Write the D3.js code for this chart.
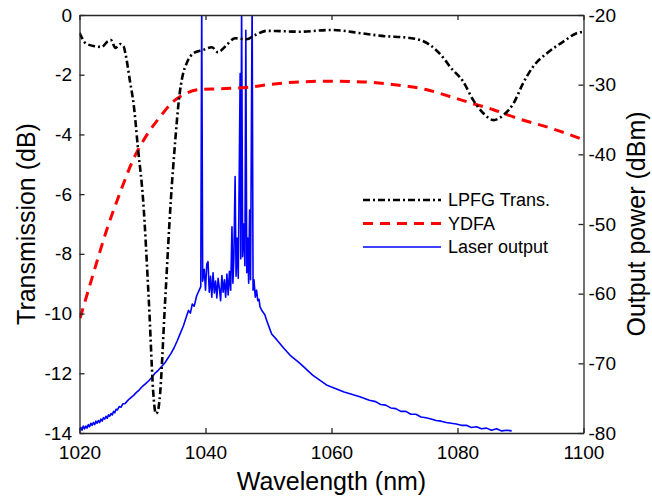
<!DOCTYPE html>
<html>
<head>
<meta charset="utf-8">
<script src="https://cdn.jsdelivr.net/npm/d3@7"></script>
<style>
  body { margin: 0; background: #fff; }
  text { font-family: "Liberation Sans", Arial, sans-serif; fill: #000; }
</style>
</head>
<body>
<div id="chart"></div>
<script>
// LPFG transmission (dB, left axis)
var lpfgWl = [1020, 1021, 1022.5, 1023.5, 1024.5, 1025, 1025.7, 1026.5, 1027, 1027.3, 1028, 1028.6, 1029.3, 1030.1, 1031, 1031.8, 1032.1, 1032.4, 1032.7, 1033.6, 1034.5, 1035.2, 1035.8, 1036.4, 1037, 1038.1, 1039.6, 1041, 1042, 1043.1, 1044.7, 1046.5, 1047.9, 1049.7, 1051.8, 1055, 1060, 1065, 1068, 1072.5, 1075.6, 1078, 1078.8, 1080.9, 1082.5, 1084.1, 1085.7, 1087.3, 1088.9, 1090.4, 1092, 1094.2, 1096.8, 1098.9, 1100];
var lpfgT = [-0.6, -0.95, -1.05, -1.07, -0.88, -0.84, -1.1, -0.97, -1.05, -1.3, -2.2, -3.0, -4.5, -6.2, -9.55, -12.9, -13.35, -13.3, -12.9, -9.55, -6.2, -4.2, -2.8, -2.0, -1.62, -1.28, -1.17, -1.08, -1.25, -1.06, -0.78, -0.81, -0.67, -0.53, -0.54, -0.56, -0.5, -0.62, -0.7, -0.77, -1.0, -1.5, -1.73, -2.23, -2.85, -3.29, -3.52, -3.35, -2.96, -2.29, -1.73, -1.28, -0.89, -0.61, -0.56];

// YDFA output (dBm, right axis)
var ydfaWl = [1020.1, 1022.2, 1024.3, 1026.4, 1028.5, 1030.7, 1032.8, 1034.9, 1036, 1039.1, 1042, 1046.5, 1050, 1055, 1060, 1065, 1070, 1075, 1078.8, 1082, 1085.7, 1089.4, 1095, 1100];
var ydfaP = [-63.5, -57.1, -50.9, -45.6, -40.8, -37.2, -34.6, -32.4, -31.7, -30.7, -30.6, -30.4, -30.0, -29.6, -29.5, -29.6, -30.0, -30.7, -31.7, -32.6, -33.6, -34.8, -36.3, -37.9];

// Laser output spectrum (dBm, right axis)
var laserWl = [1020, 1020.2, 1020.4, 1020.6, 1020.8, 1021, 1021.2, 1021.4, 1021.6, 1021.8, 1022, 1022.2, 1022.4, 1022.6, 1022.8, 1023, 1023.2, 1023.4, 1023.6, 1023.8, 1024, 1024.2, 1024.4, 1024.6, 1024.8, 1025, 1025.2, 1025.4, 1025.6, 1025.8, 1026, 1026.3, 1026.6, 1026.9, 1027.2, 1027.5, 1027.8, 1028.2, 1028.6, 1029, 1029.5, 1030, 1030.5, 1031, 1031.5, 1032, 1032.5, 1033, 1033.5, 1034, 1034.5, 1035, 1035.5, 1036, 1036.5, 1037, 1037.3, 1037.6, 1037.9, 1038.2, 1038.6, 1039, 1039.25, 1039.4, 1039.55, 1039.8, 1040, 1040.2, 1040.4, 1040.6, 1040.8, 1041, 1041.2, 1041.4, 1041.6, 1041.8, 1042, 1042.2, 1042.4, 1042.6, 1042.8, 1043, 1043.2, 1043.4, 1043.6, 1043.8, 1044, 1044.2, 1044.35, 1044.5, 1044.7, 1044.85, 1045, 1045.2, 1045.5, 1045.6, 1045.73, 1045.9, 1046.1, 1046.25, 1046.4, 1046.55, 1046.7, 1046.85, 1047, 1047.15, 1047.4, 1047.55, 1047.7, 1047.9, 1048.1, 1048.3, 1048.5, 1048.65, 1049, 1049.4, 1049.7, 1050.1, 1050.5, 1051.3, 1052.4, 1053.5, 1055, 1057, 1059.2, 1062, 1064.5, 1066, 1067, 1067.8, 1068.6, 1069.4, 1070.2, 1071, 1071.8, 1072.6, 1073.4, 1074.2, 1075, 1075.8, 1076.6, 1077.4, 1078.2, 1079, 1079.8, 1080.6, 1081.4, 1082.2, 1083, 1083.8, 1084.6, 1085.4, 1086.2, 1087, 1087.8, 1088.6];
var laserP = [-79.6, -79.2, -79.6, -79.0, -79.4, -79.0, -79.3, -78.8, -79.1, -78.6, -78.9, -78.5, -78.8, -78.3, -78.6, -78.2, -78.5, -78.0, -78.3, -77.8, -78.0, -77.6, -77.9, -77.4, -77.6, -77.2, -77.4, -76.9, -77.1, -76.6, -76.7, -76.2, -76.3, -75.8, -75.8, -75.5, -75.2, -74.9, -74.6, -74.2, -73.8, -73.3, -72.9, -72.5, -72.0, -71.4, -71.0, -70.5, -70.0, -69.3, -68.6, -67.8, -66.8, -65.7, -64.6, -63.2, -62.4, -62.8, -61.5, -61.8, -60.3, -59.5, -59.0, -18, -58.2, -56.5, -59.5, -55.8, -55.4, -59.8, -57.5, -60.5, -57.0, -59.9, -58.2, -60.6, -57.8, -59.2, -61.0, -57.4, -59.8, -58.0, -60.5, -57.2, -60.2, -56.8, -59.5, -50.4, -58.5, -55.0, -43.2, -57.5, -52.0, -57.8, -28.4, -55.0, -18, -54.7, -50.0, -56.0, -22.2, -57.0, -52.0, -58.5, -48.0, -58.0, -18, -59.5, -58.0, -60.5, -59.5, -61.0, -60.8, -61.9, -62.5, -63.0, -63.8, -64.8, -65.8, -66.6, -67.8, -68.9, -70.0, -71.7, -73.1, -74.1, -74.8, -75.3, -75.5, -75.9, -76.0, -76.4, -76.5, -76.9, -76.9, -77.3, -77.3, -77.7, -77.8, -78.0, -78.2, -78.3, -78.5, -78.6, -78.7, -78.9, -78.9, -79.2, -79.1, -79.4, -79.3, -79.6, -79.4, -79.7, -79.6, -79.7];

var xTicks = [1020, 1040, 1060, 1080, 1100];
var leftTicks = [0, -2, -4, -6, -8, -10, -12, -14];
var rightTicks = [-20, -30, -40, -50, -60, -70, -80];
var legendNames = ["LPFG Trans.", "YDFA", "Laser output"];

var svgWidth = 652;
var svgHeight = 497;
var margin = { top: 15, right: 68.5, bottom: 64, left: 79.5 };
var width = svgWidth - margin.left - margin.right;
var height = svgHeight - margin.top - margin.bottom;
var axisColor = "#262626";

var svg = d3.select("#chart")
  .append("svg")
  .attr("width", svgWidth)
  .attr("height", svgHeight);

var chartGroup = svg.append("g")
  .attr("transform", `translate(${margin.left}, ${margin.top})`);

var x = d3.scaleLinear().domain([1020, 1100]).range([0, width]);
var yLeft = d3.scaleLinear().domain([-14, 0]).range([height, 0]);
var yRight = d3.scaleLinear().domain([-80, -20]).range([height, 0]);

chartGroup.append("clipPath").attr("id", "plotClip")
  .append("rect").attr("width", width).attr("height", height);

var plot = chartGroup.append("g").attr("clip-path", "url(#plotClip)");

// Laser output
var laserLine = d3.line()
  .x(function(d, i) { return x(laserWl[i]); })
  .y(function(d) { return yRight(d); });
plot.append("path")
  .attr("d", laserLine(laserP))
  .attr("fill", "none")
  .attr("stroke", "#0000ff")
  .attr("stroke-width", 1.6)
  .attr("stroke-linejoin", "round");

// YDFA
var ydfaLine = d3.line()
  .x(function(d, i) { return x(ydfaWl[i]); })
  .y(function(d) { return yRight(d); })
  .curve(d3.curveMonotoneX);
plot.append("path")
  .attr("d", ydfaLine(ydfaP))
  .attr("fill", "none")
  .attr("stroke", "#ff0000")
  .attr("stroke-width", 3)
  .attr("stroke-dasharray", "10,7");

// LPFG
var lpfgLine = d3.line()
  .x(function(d, i) { return x(lpfgWl[i]); })
  .y(function(d) { return yLeft(d); })
  .curve(d3.curveMonotoneX);
plot.append("path")
  .attr("d", lpfgLine(lpfgT))
  .attr("fill", "none")
  .attr("stroke", "#000")
  .attr("stroke-width", 2.6)
  .attr("stroke-dasharray", "7,3,2,3");

// Axes
function styleAxis(g) {
  g.selectAll("path, line").attr("stroke", axisColor).attr("stroke-width", 1.3);
  g.selectAll("text").style("font-size", "19px").attr("fill", "#000");
}

chartGroup.append("g")
  .attr("transform", `translate(0, ${height})`)
  .call(d3.axisBottom(x).tickValues(xTicks).tickSizeInner(-5).tickSizeOuter(0).tickPadding(12.5).tickFormat(d3.format("d")))
  .call(styleAxis);

chartGroup.append("g")
  .call(d3.axisTop(x).tickValues(xTicks).tickSizeInner(-5).tickSizeOuter(0).tickFormat(""))
  .call(styleAxis);

chartGroup.append("g")
  .call(d3.axisLeft(yLeft).tickValues(leftTicks).tickSizeInner(-5).tickSizeOuter(0).tickPadding(7.5).tickFormat(d3.format("d")))
  .call(styleAxis);

chartGroup.append("g")
  .attr("transform", `translate(${width}, 0)`)
  .call(d3.axisRight(yRight).tickValues(rightTicks).tickSizeInner(-5).tickSizeOuter(0).tickPadding(5).tickFormat(d3.format("d")))
  .call(styleAxis);

svg.selectAll(".tick text").text(function() { return this.textContent.replace("\u2212", "-"); });

// Axis titles
svg.append("text")
  .attr("x", margin.left + width / 2)
  .attr("y", 490)
  .attr("text-anchor", "middle")
  .style("font-size", "25px")
  .text("Wavelength (nm)");

svg.append("text")
  .attr("transform", `translate(35, ${margin.top + height / 2}) rotate(-90)`)
  .attr("text-anchor", "middle")
  .style("font-size", "25px")
  .text("Transmission (dB)");

svg.append("text")
  .attr("transform", `translate(645, ${margin.top + height / 2}) rotate(-90)`)
  .attr("text-anchor", "middle")
  .style("font-size", "25px")
  .text("Output power (dBm)");

// Legend
var legendStyles = [
  { color: "#000", width: 2.6, dash: "7,3,2,3" },
  { color: "#ff0000", width: 3, dash: "10,7" },
  { color: "#0000ff", width: 1.6, dash: null }
];
var legendY = [200, 223.5, 247];
var legend = svg.append("g");
legendNames.forEach(function(name, i) {
  legend.append("line")
    .attr("x1", 363).attr("x2", 441)
    .attr("y1", legendY[i]).attr("y2", legendY[i])
    .attr("stroke", legendStyles[i].color)
    .attr("stroke-width", legendStyles[i].width)
    .attr("stroke-dasharray", legendStyles[i].dash);
  legend.append("text")
    .attr("x", 448)
    .attr("y", legendY[i])
    .attr("dy", "0.35em")
    .style("font-size", "18px")
    .text(name);
});
</script>
</body>
</html>
